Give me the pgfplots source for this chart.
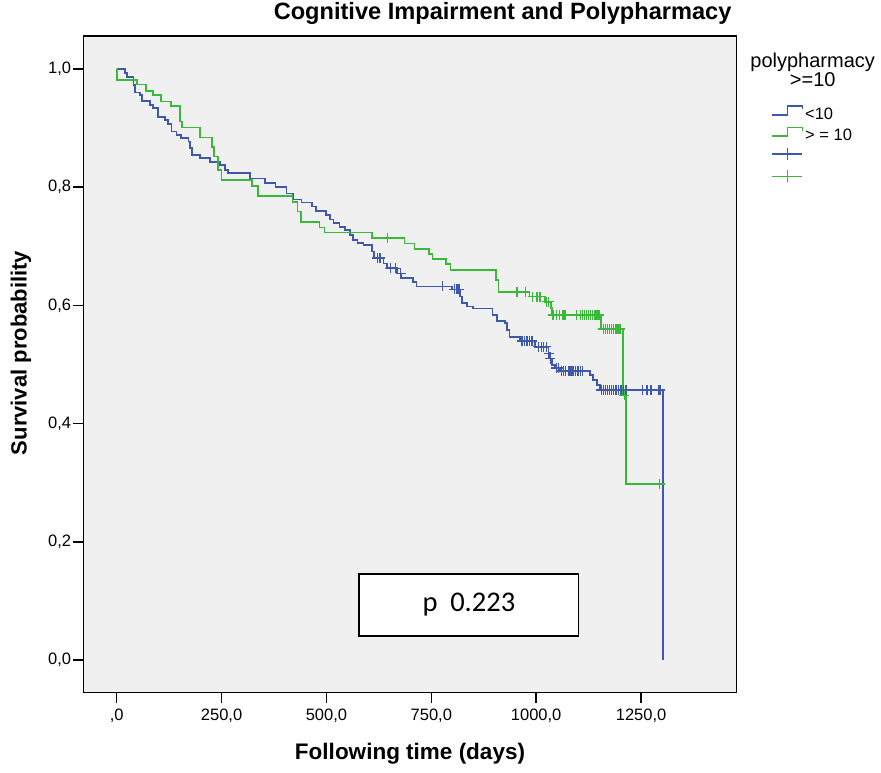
\documentclass[border=0pt]{standalone}
\usepackage{fontspec}
\setmainfont{Liberation Sans}
\newfontfamily\carlito{Carlito}
\usepackage{pgfplots}
\pgfplotsset{compat=1.18}
\definecolor{kmblue}{RGB}{62,88,172}
\definecolor{kmgreen}{RGB}{58,184,58}
\definecolor{bg}{RGB}{240,240,240}
\begin{document}
\begin{tikzpicture}
\path[use as bounding box] (-83.3pt,-79.3pt) rectangle (797.7pt,692.7pt);
\begin{axis}[
  scale only axis, width=653.4pt, height=656.7pt,
  xmin=-79.6, xmax=1478, ymin=-0.0553, ymax=1.0558,
  clip=false,
  axis background/.style={fill=bg},
  axis line style={line width=1.5pt, black},
  xtick={0,250,500,750,1000,1250},
  xticklabels={{,0},{250,0},{500,0},{750,0},{1000,0},{1250,0}},
  ytick={0,0.2,0.4,0.6,0.8,1.0},
  yticklabels={{0,0},{0,2},{0,4},{0,6},{0,8},{1,0}},
  tick align=outside, xtick pos=left, ytick pos=left,
  major tick length=10.5pt,
  tick style={line width=1.5pt, black},
  tick label style={font=\fontsize{16.5}{19}\selectfont},
  yticklabel style={inner xsep=1.5pt},
  xticklabel style={yshift=-2.5pt},
  /pgf/number format/assume math mode=true,
  xlabel={Following time (days)},
  xlabel style={at={(axis description cs:0.5,-0.1014)}, anchor=base, font=\bfseries\fontsize{22.5}{26}\selectfont, inner sep=0pt},
  ylabel={Survival probability},
  ylabel style={at={(axis description cs:-0.0866,0.5173)}, anchor=base, rotate=0, font=\bfseries\fontsize{22}{26}\selectfont, inner sep=0pt},
  legend style={at={(axis description cs:1.0535,0.8949)}, anchor=north west, draw=none, fill=none, inner sep=0pt, outer sep=0pt, font=\fontsize{16.5}{19}\selectfont, row sep=0pt, nodes={inner sep=2pt, text height=12pt, text depth=5pt}},
  legend cell align=left,
]
\addlegendimage{legend image code/.code={\draw[kmblue, line width=1.5pt] (0pt,1pt) -- (15pt,1pt) -- (15pt,10pt) -- (30pt,10pt) -- (30pt,6.5pt);}}
\addlegendentry{<10}
\addlegendimage{legend image code/.code={\draw[kmgreen, line width=1.5pt] (0pt,1pt) -- (15pt,1pt) -- (15pt,9.5pt) -- (30pt,9.5pt) -- (30pt,6pt);}}
\addlegendentry{> = 10}
\addlegendimage{legend image code/.code={\draw[kmblue, line width=1.5pt] (0pt,5pt) -- (30pt,5pt) (15pt,-1pt) -- (15pt,11pt);}}
\addlegendentry{}
\addlegendimage{legend image code/.code={\draw[kmgreen, line width=1.5pt] (0pt,5pt) -- (30pt,5pt) (15pt,-1pt) -- (15pt,11pt);}}
\addlegendentry{}

% polypharmacy < 10
\addplot[const plot, kmblue, line width=1.6pt, forget plot] coordinates {
(0,1) (20,0.993) (25,0.986) (40,0.973) (44,0.960) (56,0.956) (61,0.946) (79,0.939)
(87,0.934) (98,0.919) (115,0.914) (123,0.907) (131,0.894) (143,0.888) (153,0.883)
(171,0.877) (175,0.866) (179,0.854) (199,0.849) (223,0.843) (246,0.838) (258,0.829)
(266,0.824) (318,0.815) (354,0.807) (379,0.800) (405,0.789) (420,0.779) (441,0.774)
(465,0.767) (475,0.760) (499,0.753) (509,0.745) (517,0.739) (531,0.733) (544,0.728)
(556,0.719) (564,0.711) (574,0.706) (588,0.702) (608,0.691) (614,0.680) (636,0.671)
(644,0.663) (668,0.654) (678,0.646) (707,0.640) (715,0.632) (800,0.627) (819,0.615)
(823,0.604) (835,0.598) (850,0.595) (896,0.584) (906,0.574) (926,0.570) (931,0.558)
(936,0.547) (962,0.540) (997,0.530) (1029,0.519) (1033,0.510) (1037,0.499) (1045,0.494)
(1057,0.489) (1128,0.482) (1136,0.474) (1145,0.465) (1152,0.457) (1302,0.0)
};
\addplot[only marks, mark=+, mark size=5pt, kmblue, mark options={line width=1.3pt}, forget plot] coordinates {
(621,0.680) (628,0.680) (652,0.663) (664,0.663) (677,0.654) (776,0.632) (805,0.627)
(811,0.627) (816,0.627) (966,0.540) (972,0.540) (978,0.540) (984,0.540) (990,0.540)
(1005,0.530) (1012,0.530) (1018,0.530) (1024,0.530) (1030,0.519) (1034,0.510)
(1048,0.494) (1053,0.494) (1060,0.489) (1065,0.489) (1070,0.489) (1078,0.489)
(1083,0.489) (1088,0.489) (1093,0.489) (1100,0.489) (1105,0.489) (1110,0.489)
(1155,0.457) (1160,0.457) (1165,0.457) (1170,0.457) (1175,0.457) (1180,0.457)
(1185,0.457) (1190,0.457) (1196,0.457) (1202,0.457) (1208,0.457) (1214,0.457)
(1253,0.457) (1264,0.457) (1274,0.457) (1291,0.457) (1295,0.457)
};
% polypharmacy >= 10
\addplot[const plot, kmgreen, line width=1.6pt, forget plot] coordinates {
(0,1) (1,0.981) (48,0.974) (70,0.963) (87,0.956) (105,0.945) (129,0.937) (151,0.911)
(156,0.901) (199,0.884) (227,0.868) (232,0.852) (242,0.829) (250,0.812) (322,0.802)
(337,0.785) (419,0.775) (431,0.759) (439,0.741) (483,0.732) (495,0.723) (608,0.714)
(686,0.705) (710,0.695) (745,0.687) (753,0.678) (785,0.670) (796,0.660) (904,0.643)
(910,0.623) (984,0.615) (1021,0.606) (1035,0.596) (1037,0.584) (1154,0.560)
(1207,0.448) (1214,0.298) (1302,0.298)
};
\addplot[only marks, mark=+, mark size=5pt, kmgreen, mark options={line width=1.3pt}, forget plot] coordinates {
(645,0.714) (954,0.623) (974,0.623) (992,0.615) (1002,0.615) (1009,0.615) (1025,0.606)
(1030,0.606) (1040,0.584) (1048,0.584) (1055,0.584) (1064,0.584) (1069,0.584)
(1096,0.584) (1105,0.584) (1110,0.584) (1115,0.584) (1120,0.584) (1125,0.584)
(1130,0.584) (1135,0.584) (1140,0.584) (1145,0.584) (1150,0.584)
(1160,0.560) (1165,0.560) (1170,0.560) (1175,0.560) (1180,0.560) (1185,0.560)
(1190,0.560) (1195,0.560) (1200,0.560) (1210,0.448) (1294,0.298)
};
\node[anchor=base east, font=\bfseries\fontsize{23.6}{28}\selectfont, inner sep=0pt] at (axis description cs:0.9923,1.0244) {Cognitive Impairment and Polypharmacy};
\node[anchor=base, font=\fontsize{20}{24}\selectfont, inner sep=0pt] at (axis description cs:1.1163,0.9523) {polypharmacy};
\node[anchor=base, font=\fontsize{20}{24}\selectfont, inner sep=0pt] at (axis description cs:1.1163,0.9228) {>=10};
\node[draw=black, line width=1.8pt, fill=white, minimum width=219pt, minimum height=62pt, inner sep=0pt, font=\carlito\fontsize{28.5}{34}\selectfont] at (axis cs:839.6,0.0931) {p\hspace{0.45em}0.223};
\end{axis}
\end{tikzpicture}
\end{document}
